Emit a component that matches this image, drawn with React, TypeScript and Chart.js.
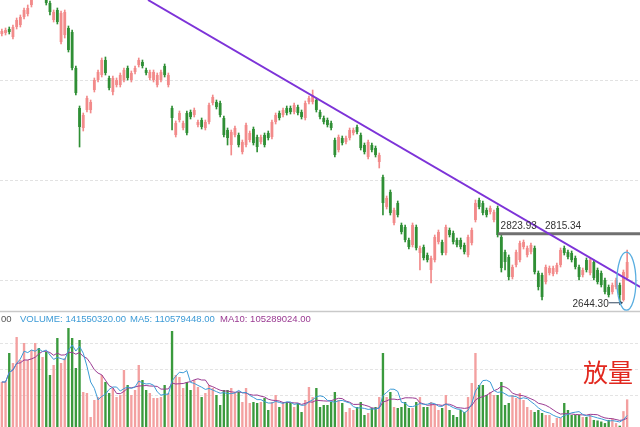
import React, { useEffect, useRef } from 'react';
import { Chart, registerables } from 'chart.js';

Chart.register(...registerables);

// ---------- data ----------
const opens = [
  3315, 3317.5, 3327.5, 3307.5, 3332.5, 3337.5, 3357.5, 3365, 3387.5, 3410,
  3480, 3415, 3410, 3392.5, 3350, 3375, 3295, 3312.5, 3330, 3320,
  3230, 3130, 3080, 3125, 3125, 3175, 3200, 3212.5, 3250, 3205,
  3170, 3187.5, 3187.5, 3200, 3230, 3200, 3220, 3237.5, 3245, 3225,
  3205, 3200, 3187.5, 3200, 3235, 3187.5, 3130, 3062.5, 3100, 3080,
  3117.5, 3120, 3112.5, 3087.5, 3100, 3080, 3095, 3142.5, 3145, 3142.5,
  3105, 3075, 3037.5, 3062.5, 3062.5, 3020, 3037.5, 3050, 3077.5, 3057.5,
  3045, 3062.5, 3067.5, 3057.5, 3095, 3117.5, 3112.5, 3130, 3130, 3120,
  3132.5, 3120, 3105, 3145, 3145, 3150, 3120, 3105, 3100, 3092.5,
  3050, 3025, 3055, 3045, 3055, 3067.5, 3082.5, 3062.5, 3037.5, 3007.5,
  3037.5, 3030, 2995, 2957.5, 2882.5, 2920, 2842.5, 2892.5, 2837.5, 2832.5,
  2800, 2787.5, 2832.5, 2767.5, 2782.5, 2762.5, 2725, 2750, 2795, 2795,
  2767.5, 2825, 2817.5, 2800, 2800, 2787.5, 2762.5, 2792.5, 2850, 2900,
  2892.5, 2875, 2870, 2850, 2880, 2807.5, 2770, 2757.5, 2707.5, 2737.5,
  2750, 2782.5, 2762.5, 2770, 2780, 2717.5, 2712.5, 2695, 2717.5, 2715,
  2720, 2737.5, 2780, 2770, 2767.5, 2755, 2732.5, 2712.5, 2750, 2717.5,
  2745, 2725, 2717.5, 2700, 2682.5, 2670, 2682.5, 2687.5, 2650, 2705,
];
const closes = [
  3322.5, 3325, 3320, 3332.5, 3350, 3357.5, 3375, 3380, 3405, 3470,
  3440, 3445, 3392.5, 3370, 3370, 3345, 3367.5, 3370, 3275, 3230,
  3167.5, 3082.5, 3112.5, 3155, 3145, 3200, 3220, 3250, 3217.5, 3180,
  3205, 3200, 3212.5, 3225, 3205, 3217.5, 3230, 3250, 3235, 3217.5,
  3220, 3220, 3212.5, 3220, 3212.5, 3212.5, 3105, 3092.5, 3117.5, 3092.5,
  3067.5, 3107.5, 3125, 3095, 3082.5, 3095, 3137.5, 3157.5, 3132.5, 3112.5,
  3062.5, 3055, 3070, 3080, 3037.5, 3045, 3087.5, 3067.5, 3042.5, 3032.5,
  3057.5, 3037.5, 3055, 3095, 3112.5, 3105, 3125, 3117.5, 3120, 3137.5,
  3117.5, 3107.5, 3142.5, 3155, 3162.5, 3125, 3107.5, 3095, 3087.5, 3080,
  3012.5, 3057.5, 3042.5, 3055, 3075, 3075, 3070, 3030, 3020, 3045,
  3025, 3012.5, 3012.5, 2892.5, 2905, 2867.5, 2875, 2862.5, 2820, 2800,
  2782.5, 2837.5, 2780, 2780, 2755, 2750, 2755, 2807.5, 2820, 2767.5,
  2832.5, 2812.5, 2795, 2787.5, 2782.5, 2770, 2807.5, 2825, 2892.5, 2882.5,
  2867.5, 2862.5, 2880, 2870, 2812.5, 2730, 2745, 2707.5, 2732.5, 2770,
  2792.5, 2795, 2780, 2787.5, 2720, 2682.5, 2657.5, 2732.5, 2730, 2730,
  2737.5, 2775, 2767.5, 2757.5, 2750, 2732.5, 2707.5, 2725, 2725, 2750,
  2705, 2695, 2687.5, 2670, 2662.5, 2687.5, 2700, 2662.5, 2720, 2745,
];
const highs = [
  3327.5, 3330, 3332.5, 3337.5, 3355, 3362.5, 3380, 3387.5, 3412.5, 3490,
  3500, 3460, 3420, 3397.5, 3375, 3380, 3372.5, 3375, 3335, 3325,
  3235, 3135, 3117.5, 3160, 3150, 3205, 3225, 3255, 3257.5, 3210,
  3210, 3205, 3217.5, 3230, 3235, 3222.5, 3235, 3255, 3250, 3230,
  3225, 3225, 3217.5, 3225, 3240, 3217.5, 3135, 3097.5, 3122.5, 3097.5,
  3122.5, 3125, 3130, 3100, 3105, 3100, 3142.5, 3162.5, 3150, 3147.5,
  3110, 3080, 3075, 3085, 3067.5, 3050, 3092.5, 3072.5, 3082.5, 3062.5,
  3062.5, 3067.5, 3072.5, 3100, 3117.5, 3122.5, 3130, 3135, 3135, 3142.5,
  3137.5, 3125, 3147.5, 3160, 3175, 3155, 3125, 3110, 3105, 3097.5,
  3055, 3062.5, 3060, 3060, 3080, 3080, 3087.5, 3067.5, 3042.5, 3050,
  3042.5, 3035, 3017.5, 2962.5, 2910, 2925, 2880, 2897.5, 2842.5, 2837.5,
  2805, 2842.5, 2837.5, 2785, 2787.5, 2767.5, 2760, 2812.5, 2825, 2800,
  2837.5, 2830, 2822.5, 2805, 2805, 2792.5, 2812.5, 2830, 2900, 2905,
  2897.5, 2880, 2885, 2875, 2885, 2812.5, 2775, 2762.5, 2737.5, 2775,
  2797.5, 2800, 2785, 2792.5, 2785, 2722.5, 2717.5, 2737.5, 2735, 2735,
  2742.5, 2780, 2785, 2775, 2772.5, 2760, 2737.5, 2730, 2755, 2755,
  2750, 2730, 2722.5, 2705, 2687.5, 2692.5, 2705, 2692.5, 2725, 2775,
];
const lows = [
  3310, 3312.5, 3315, 3302.5, 3327.5, 3332.5, 3352.5, 3360, 3382.5, 3405,
  3432.5, 3405, 3387.5, 3362.5, 3345, 3340, 3290, 3305, 3270, 3225,
  3162.5, 3032.5, 3072.5, 3120, 3117.5, 3170, 3195, 3207.5, 3212.5, 3175,
  3162.5, 3182.5, 3182.5, 3195, 3200, 3195, 3215, 3232.5, 3230, 3212.5,
  3200, 3195, 3182.5, 3195, 3207.5, 3182.5, 3075, 3057.5, 3095, 3075,
  3062.5, 3102.5, 3107.5, 3082.5, 3077.5, 3075, 3090, 3137.5, 3127.5, 3107.5,
  3057.5, 3037.5, 3012.5, 3057.5, 3032.5, 3015, 3032.5, 3045, 3037.5, 3020,
  3040, 3032.5, 3050, 3052.5, 3090, 3100, 3107.5, 3112.5, 3115, 3115,
  3112.5, 3102.5, 3100, 3140, 3140, 3120, 3102.5, 3090, 3082.5, 3075,
  3007.5, 3020, 3037.5, 3040, 3050, 3062.5, 3065, 3025, 3015, 3002.5,
  3020, 3007.5, 2980, 2862.5, 2877.5, 2862.5, 2837.5, 2857.5, 2815, 2795,
  2777.5, 2782.5, 2775, 2725, 2750, 2745, 2692.5, 2745, 2790, 2762.5,
  2762.5, 2807.5, 2790, 2782.5, 2777.5, 2765, 2757.5, 2787.5, 2845, 2877.5,
  2862.5, 2857.5, 2865, 2845, 2807.5, 2720, 2725, 2700, 2702.5, 2732.5,
  2745, 2777.5, 2757.5, 2765, 2715, 2675, 2650, 2690, 2712.5, 2710,
  2715, 2732.5, 2762.5, 2752.5, 2745, 2727.5, 2700, 2707.5, 2720, 2712.5,
  2700, 2690, 2682.5, 2665, 2657.5, 2665, 2677.5, 2644.3, 2647, 2700,
];
// volume in millions
const volumes = [
  175.0, 175.0, 230.8, 211.5, 261.5, 217.3, 250.0, 217.3, 236.5, 250.0,
  240.4, 223.1, 232.7, 188.5, 207.7, 259.6, 211.5, 221.1, 278.8, 259.6,
  201.9, 255.8, 155.8, 153.8, 107.7, 140.4, 146.1, 188.5, 175.0, 153.8,
  163.5, 146.1, 150.0, 198.1, 169.2, 150.0, 159.6, 207.7, 178.8, 159.6,
  153.8, 144.2, 144.2, 146.1, 169.2, 153.8, 273.1, 188.5, 184.6, 163.5,
  175.0, 159.6, 178.8, 165.4, 146.1, 153.8, 169.2, 163.5, 150.0, 130.8,
  159.6, 159.6, 163.5, 155.8, 155.8, 136.5, 163.5, 134.6, 136.5, 134.6,
  136.5, 144.2, 121.2, 136.5, 150.0, 126.9, 134.6, 136.5, 134.6, 126.9,
  134.6, 117.3, 140.4, 165.4, 146.1, 163.5, 126.9, 130.8, 130.8, 136.5,
  155.8, 140.4, 134.6, 117.3, 125.0, 121.2, 126.9, 136.5, 111.5, 115.4,
  125.0, 126.9, 146.1, 230.8, 146.1, 155.8, 126.9, 125.0, 126.9, 136.5,
  125.0, 125.0, 136.5, 146.1, 126.9, 126.9, 136.5, 130.8, 121.2, 125.0,
  150.0, 121.2, 111.5, 107.7, 121.2, 117.3, 146.1, 173.1, 230.8, 169.2,
  169.2, 150.0, 155.8, 150.0, 150.0, 175.0, 130.8, 134.6, 150.0, 144.2,
  153.8, 140.4, 126.9, 121.2, 117.3, 121.2, 115.4, 111.5, 111.5, 96.2,
  105.8, 105.8, 134.6, 121.2, 111.5, 111.5, 111.5, 107.7, 107.7, 111.5,
  102, 101, 99, 96, 102, 105.35, 96, 91, 119, 141.55,
];

const days = opens.map((_, i) => String(i + 1));

// axis ranges and grid values
const PRICE_MIN = 2620;
const PRICE_MAX = 3400;
const PRICE_GRID = [3200, 2950, 2700];
const VOL_MAX = 307.7;
const VOL_GRID = [150, 200, 250];

// annotations (data units: candle index, price / volume)
const TREND_FROM = [39.5, 3400];
const TREND_TO = [172.5, 2682.5];
const SUPPORT_PRICE = 2815.34;
const SUPPORT_FROM = 134.1;
const LABEL_A = '2823.93';
const LABEL_A_AT = 134.8;
const LABEL_B = '2815.34';
const LABEL_B_AT = 146.8;
const LOW_LABEL = '2644.30';
const LOW_INDEX = 167.8;
const LOW_PRICE = 2644.3;
const MARK_INDEX = 168.8;
const MARK_PRICE = 2697;
const VOL_MARK_INDEX = 168.5;
const VOL_MARK_VALUE = 32;

const VOLUME_TEXT = 'VOLUME: 141550320.00';
const MA5_TEXT = 'MA5: 110579448.00';
const MA10_TEXT = 'MA10: 105289024.00';
const NOTE = '放量';

// ---------- colours ----------
const UP = '#f28a8a';
const DOWN = '#2f8f35';
const VOL_UP = '#f3a0a0';
const VOL_DOWN = '#3a9a3d';
const MA5_COLOR = '#3d9bd6';
const MA10_COLOR = '#9a3a92';
const TREND_COLOR = '#7d33d8';
const RING = '#5aaee0';

const W = 640;
const PRICE_H = 313;
const VOL_TOP = 313;
const VOL_H = 160;
const RIGHT_PAD = 11;

const isUp = opens.map((o, i) => closes[i] >= o);

function movingAverage(arr: number[], n: number) {
  return arr.map((_, i) => {
    const s = Math.max(0, i - n + 1);
    const part = arr.slice(s, i + 1);
    return part.reduce((a, b) => a + b, 0) / part.length;
  });
}

const SANS = '"Liberation Sans", Arial, sans-serif';

const priceDecor = {
  id: 'priceDecor',
  beforeDatasetsDraw(chart: any) {
    const { ctx, scales } = chart;
    const y = scales.y;
    ctx.save();
    ctx.strokeStyle = '#e2e2e2';
    ctx.lineWidth = 1;
    ctx.setLineDash([3, 2]);
    for (const g of PRICE_GRID) {
      const py = Math.round(y.getPixelForValue(g)) + 0.5;
      ctx.beginPath();
      ctx.moveTo(0, py);
      ctx.lineTo(chart.width, py);
      ctx.stroke();
    }
    ctx.restore();
  },
  afterDatasetsDraw(chart: any) {
    const { ctx, scales, chartArea } = chart;
    const x = scales.x;
    const y = scales.y;
    ctx.save();
    // bottom border of price panel
    ctx.strokeStyle = '#c9c9c9';
    ctx.lineWidth = 1.5;
    ctx.beginPath();
    ctx.moveTo(0, chartArea.bottom - 0.5);
    ctx.lineTo(chart.width, chartArea.bottom - 0.5);
    ctx.stroke();

    // support line
    const sy = y.getPixelForValue(SUPPORT_PRICE);
    ctx.strokeStyle = '#707070';
    ctx.lineWidth = 3;
    ctx.beginPath();
    ctx.moveTo(x.getPixelForValue(SUPPORT_FROM), sy);
    ctx.lineTo(chart.width, sy);
    ctx.stroke();

    // trend line
    ctx.strokeStyle = TREND_COLOR;
    ctx.lineWidth = 2;
    ctx.beginPath();
    ctx.moveTo(x.getPixelForValue(TREND_FROM[0]), y.getPixelForValue(TREND_FROM[1]));
    ctx.lineTo(x.getPixelForValue(TREND_TO[0]), y.getPixelForValue(TREND_TO[1]));
    ctx.stroke();

    // labels
    ctx.fillStyle = '#333';
    ctx.font = `10px ${SANS}`;
    ctx.textBaseline = 'middle';
    ctx.textAlign = 'left';
    ctx.fillText(LABEL_A, x.getPixelForValue(LABEL_A_AT), sy - 7.5);
    ctx.fillText(LABEL_B, x.getPixelForValue(LABEL_B_AT), sy - 7.5);

    // low label + arrow
    const ly = y.getPixelForValue(LOW_PRICE);
    const lx = x.getPixelForValue(LOW_INDEX);
    ctx.textAlign = 'right';
    ctx.fillText(LOW_LABEL, lx - 14, ly + 1.5);
    ctx.strokeStyle = '#33475e';
    ctx.lineWidth = 1;
    ctx.beginPath();
    ctx.moveTo(lx - 14, ly + 0.5);
    ctx.lineTo(lx - 1, ly + 0.5);
    ctx.stroke();
    ctx.fillStyle = '#33475e';
    ctx.beginPath();
    ctx.moveTo(lx + 0.5, ly + 0.5);
    ctx.lineTo(lx - 3.5, ly - 2);
    ctx.lineTo(lx - 3.5, ly + 3);
    ctx.closePath();
    ctx.fill();

    // ring
    ctx.strokeStyle = RING;
    ctx.lineWidth = 1.3;
    ctx.beginPath();
    ctx.ellipse(x.getPixelForValue(MARK_INDEX), y.getPixelForValue(MARK_PRICE), 9.5, 29, 0, 0, Math.PI * 2);
    ctx.stroke();
    ctx.restore();
  },
};

const volDecor = {
  id: 'volDecor',
  beforeDatasetsDraw(chart: any) {
    const { ctx, scales } = chart;
    const y = scales.y;
    ctx.save();
    ctx.strokeStyle = '#e4e4e4';
    ctx.lineWidth = 1;
    ctx.setLineDash([3, 2]);
    for (const g of VOL_GRID) {
      const py = Math.round(y.getPixelForValue(g)) + 0.5;
      ctx.beginPath();
      ctx.moveTo(0, py);
      ctx.lineTo(chart.width, py);
      ctx.stroke();
    }
    ctx.restore();
  },
  afterDatasetsDraw(chart: any) {
    const { ctx, scales } = chart;
    const x = scales.x;
    const y = scales.y;
    ctx.save();
    ctx.font = `9.5px ${SANS}`;
    ctx.textBaseline = 'middle';
    ctx.textAlign = 'left';
    ctx.fillStyle = '#555';
    ctx.fillText('0.00', -7, 6.5);
    ctx.fillStyle = MA5_COLOR;
    ctx.fillText(VOLUME_TEXT, 20, 6.5);
    ctx.fillText(MA5_TEXT, 130, 6.5);
    ctx.fillStyle = MA10_COLOR;
    ctx.fillText(MA10_TEXT, 220, 6.5);

    // note
    ctx.fillStyle = '#e2281f';
    ctx.font = `25px "Noto Sans CJK SC", sans-serif`;
    ctx.textAlign = 'center';
    ctx.fillText(NOTE, 608, 59);

    // ring around last volumes
    ctx.strokeStyle = RING;
    ctx.lineWidth = 1.3;
    ctx.beginPath();
    ctx.ellipse(x.getPixelForValue(VOL_MARK_INDEX), y.getPixelForValue(VOL_MARK_VALUE), 8.5, 24, 0, 0, Math.PI * 2);
    ctx.stroke();
    ctx.restore();
  },
};

export default function App() {
  const priceRef = useRef<HTMLCanvasElement>(null);
  const volRef = useRef<HTMLCanvasElement>(null);

  useEffect(() => {
    const upDown = isUp.map((u) => (u ? UP : DOWN));
    const priceChart = new Chart(priceRef.current as HTMLCanvasElement, {
      type: 'bar',
      data: {
        labels: days,
        datasets: [
          {
            data: lows.map((l, i) => [l, highs[i]]) as any,
            backgroundColor: upDown,
            barThickness: 1,
            grouped: false,
            order: 2,
          } as any,
          {
            data: opens.map((o, i) => [o, closes[i]]) as any,
            backgroundColor: upDown,
            barPercentage: 0.76,
            categoryPercentage: 1,
            grouped: false,
            order: 1,
          } as any,
        ],
      },
      options: {
        responsive: false,
        animation: false,
        events: [],
        layout: { padding: { left: 0, right: RIGHT_PAD, top: 0, bottom: 1 } },
        plugins: { legend: { display: false }, tooltip: { enabled: false } },
        scales: {
          x: { display: false, offset: true },
          y: { display: false, min: PRICE_MIN, max: PRICE_MAX },
        },
      },
      plugins: [priceDecor],
    });

    const ma5 = movingAverage(volumes, 5);
    const ma10 = movingAverage(volumes, 10);
    const volChart = new Chart(volRef.current as HTMLCanvasElement, {
      type: 'bar',
      data: {
        labels: days,
        datasets: [
          {
            type: 'line',
            data: ma5,
            borderColor: MA5_COLOR,
            borderWidth: 1,
            pointRadius: 0,
            tension: 0,
            order: 0,
          } as any,
          {
            type: 'line',
            data: ma10,
            borderColor: MA10_COLOR,
            borderWidth: 1,
            pointRadius: 0,
            tension: 0,
            order: 0,
          } as any,
          {
            type: 'bar',
            data: volumes,
            backgroundColor: isUp.map((u) => (u ? VOL_UP : VOL_DOWN)),
            barPercentage: 0.64,
            categoryPercentage: 1,
            order: 1,
          } as any,
        ],
      },
      options: {
        responsive: false,
        animation: false,
        events: [],
        layout: { padding: { left: 0, right: RIGHT_PAD, top: 0, bottom: 0 } },
        plugins: { legend: { display: false }, tooltip: { enabled: false } },
        scales: {
          x: { display: false, offset: true },
          y: { display: false, min: 0, max: VOL_MAX },
        },
      },
      plugins: [volDecor],
    });

    return () => {
      priceChart.destroy();
      volChart.destroy();
    };
  }, []);

  return (
    <div
      style={{
        position: 'fixed',
        left: 0,
        top: 0,
        width: W,
        height: 427,
        overflow: 'hidden',
        background: '#fff',
      }}
    >
      <canvas
        ref={priceRef}
        width={W}
        height={PRICE_H}
        style={{ position: 'absolute', left: 0, top: 0, width: W, height: PRICE_H }}
      />
      <canvas
        ref={volRef}
        width={W}
        height={VOL_H}
        style={{ position: 'absolute', left: 0, top: VOL_TOP, width: W, height: VOL_H }}
      />
    </div>
  );
}
